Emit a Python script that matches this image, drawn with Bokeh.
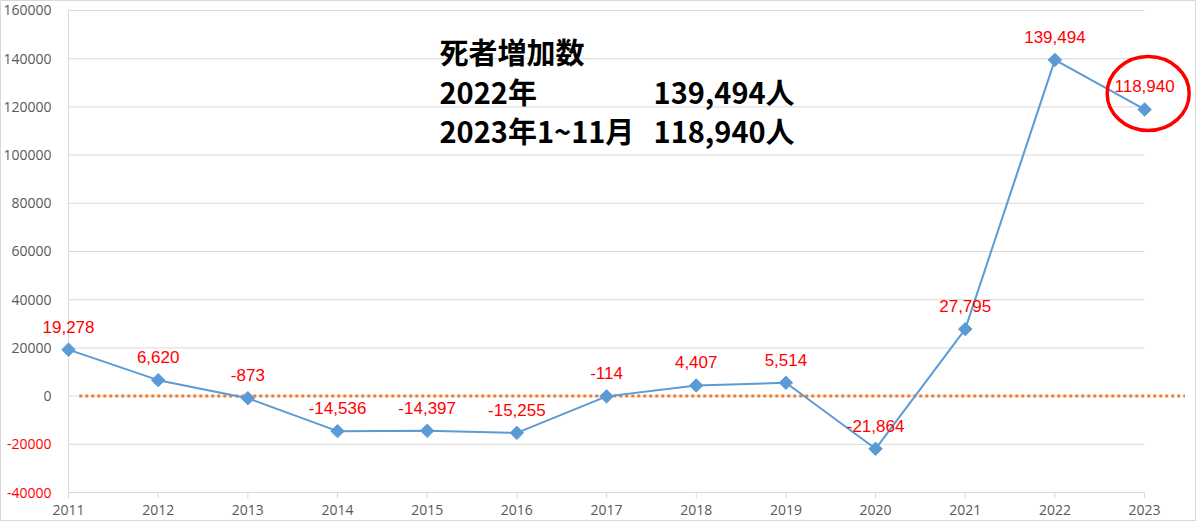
import numpy as np
from bokeh.plotting import figure
from bokeh.models import ColumnDataSource, LabelSet, Label, FixedTicker, Range1d
from bokeh.embed import file_html
from bokeh.resources import INLINE
from bokeh.core.properties import value

# ---- data ----
years = [2011, 2012, 2013, 2014, 2015, 2016, 2017, 2018, 2019, 2020, 2021, 2022, 2023]
death_increase = [19278, 6620, -873, -14536, -14397, -15255, -114, 4407, 5514, -21864, 27795, 139494, 118940]
data_labels = [f"{v:,}" for v in death_increase]
y_ticks = [-40000, -20000, 0, 20000, 40000, 60000, 80000, 100000, 120000, 140000, 160000]
y_tick_labels = [str(t) for t in y_ticks]
y_tick_colors = ["#FF0000" if t < 0 else "#595959" for t in y_ticks]
x_tick_labels = [str(y) for y in years]
title_line1 = "死者増加数"
title_line2_left = "2022年"
title_line2_right = "139,494人"
title_line3_left = "2023年1~11月"
title_line3_right = "118,940人"

BLUE = "#5B9BD5"
GRID = "#D9D9D9"
AXIS_TXT = "#595959"

# value axis spans -40000..160000; a little padding keeps end labels visible
PAD_TOP = 3734
PAD_BOTTOM = 4149
p = figure(width=1196, height=521,
           x_range=Range1d(2010.2528, 2023.590),
           y_range=Range1d(y_ticks[0] - PAD_BOTTOM, y_ticks[-1] + PAD_TOP),
           output_backend="svg", toolbar_location=None,
           min_border_left=0, min_border_right=0, min_border_top=0, min_border_bottom=20)
p.styles = {"border": "1px solid #D9D9D9"}
p.background_fill_color = "white"
p.border_fill_color = "white"
p.outline_line_color = None
p.xgrid.visible = False
p.ygrid.visible = False
p.yaxis.visible = False

# x axis (labels only; tick marks drawn at the value-axis minimum)
p.xaxis.ticker = FixedTicker(ticks=years)
p.xaxis.major_label_overrides = {y: s for y, s in zip(years, x_tick_labels)}
p.xaxis.axis_line_color = None
p.xaxis.major_tick_line_color = None
p.xaxis.major_tick_out = 0
p.xaxis.major_tick_in = 0
p.xaxis.minor_tick_line_color = None
p.xaxis.major_label_text_font = "Open Sans"
p.xaxis.major_label_text_font_size = "14px"
p.xaxis.major_label_text_color = AXIS_TXT
p.xaxis.major_label_standoff = 2

# horizontal gridlines spanning the category range, the value-axis line and category ticks
p.segment(x0=years[0], x1=years[-1], y0=y_ticks, y1=y_ticks, line_color=GRID, line_width=1)
p.segment(x0=[years[0]], x1=[years[0]], y0=[y_ticks[0]], y1=[y_ticks[-1]], line_color=GRID, line_width=1)
p.segment(x0=years, x1=years, y0=y_ticks[0], y1=y_ticks[0] - 2500, line_color=GRID, line_width=1)

ytl = ColumnDataSource(dict(x=[years[0]] * len(y_ticks), y=y_ticks, t=y_tick_labels, c=y_tick_colors))
p.text(x="x", y="y", text="t", text_color="c", source=ytl, x_offset=-17,
       text_align="right", text_baseline="middle",
       text_font=value("Open Sans"), text_font_size="14px")

# zero reference line
p.segment(x0=[years[0] + 0.12], x1=[years[-1] + 0.45], y0=[0], y1=[0],
          line_color="#ED7D31", line_width=3, line_dash="3 3")

src = ColumnDataSource(dict(x=years, y=death_increase, t=data_labels))
p.line("x", "y", source=src, line_color=BLUE, line_width=2)
p.scatter("x", "y", source=src, marker="square", angle=np.pi / 4, size=9.5,
          fill_color=BLUE, line_color=BLUE)

p.add_layout(LabelSet(source=src, x="x", y="y", text="t", y_offset=23,
                      text_align="center", text_baseline="middle", text_color="#FF0000",
                      text_font=value("Liberation Sans"), text_font_size="17px"))

# highlight ellipse around last label
p.ellipse(x=[2023.04], y=[125560], width=82, height=74, width_units="screen", height_units="screen",
          fill_color=None, line_color="#FF0000", line_width=3.5)

# title text block
tf = dict(text_font="Noto Sans CJK JP", text_font_size="29px", text_font_style="bold",
          text_color="black", text_baseline="middle", text_align="left")
p.add_layout(Label(x=2015.137, y=143400, text=title_line1, **tf))
p.add_layout(Label(x=2015.137, y=126800, text=title_line2_left, **tf))
p.add_layout(Label(x=2017.524, y=126800, text=title_line2_right, **tf))
p.add_layout(Label(x=2015.137, y=110600, text=title_line3_left, **tf))
p.add_layout(Label(x=2017.524, y=110600, text=title_line3_right, **tf))

open("out.html", "w").write(file_html(p, INLINE))
